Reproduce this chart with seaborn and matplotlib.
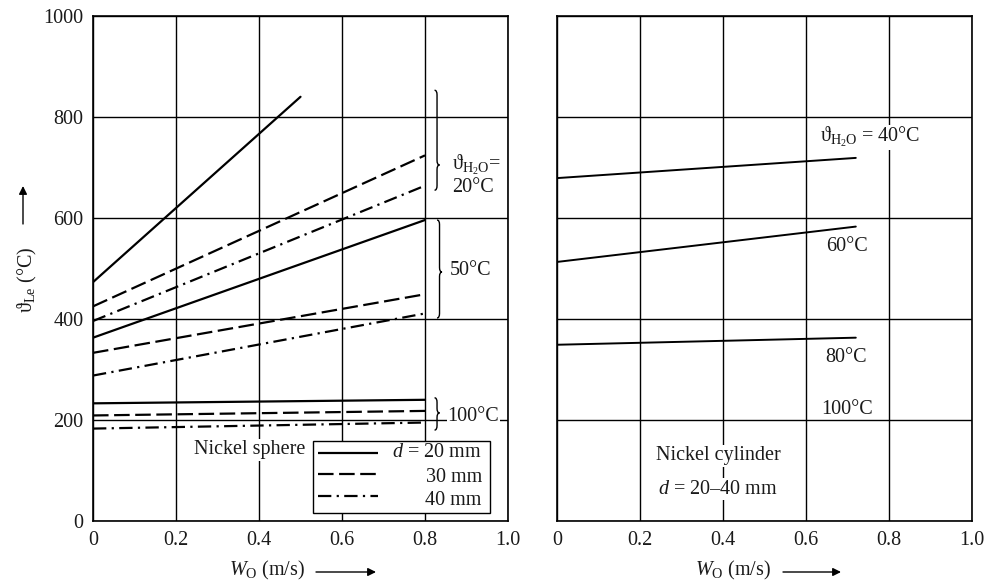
import matplotlib
matplotlib.use("Agg")
import matplotlib.pyplot as plt
from matplotlib.path import Path
from matplotlib.patches import PathPatch
from matplotlib.lines import Line2D
import seaborn as sns
import pandas as pd

# ---------------- data ----------------
# Nickel sphere (left panel): water temperature groups, diameters
sphere_temps = ["20°C", "50°C", "100°C"]
sphere_diams = ["20", "30", "40"]
sphere_w = {
    ("20°C", "20"): [0.0, 0.5], ("20°C", "30"): [0.0, 0.8], ("20°C", "40"): [0.0, 0.8],
    ("50°C", "20"): [0.0, 0.8], ("50°C", "30"): [0.0, 0.8], ("50°C", "40"): [0.0, 0.8],
    ("100°C", "20"): [0.0, 0.8], ("100°C", "30"): [0.0, 0.8], ("100°C", "40"): [0.0, 0.8],
}
sphere_T = {
    ("20°C", "20"): [473, 840], ("20°C", "30"): [425, 724], ("20°C", "40"): [396, 664],
    ("50°C", "20"): [363, 596], ("50°C", "30"): [333, 449], ("50°C", "40"): [288, 411],
    ("100°C", "20"): [233, 240], ("100°C", "30"): [209, 218], ("100°C", "40"): [183, 195],
}
legend_labels = [r"$d$ = 20 mm", "30 mm", "40 mm"]
# Nickel cylinder (right panel)
cyl_temps = ["40°C", "60°C", "80°C"]
cyl_w = [0.0, 0.72]
cyl_T = {"40°C": [679, 719], "60°C": [513, 583], "80°C": [349, 363]}

x_ticks = [0, 0.2, 0.4, 0.6, 0.8, 1.0]
x_ticklabels = ["0", "0.2", "0.4", "0.6", "0.8", "1.0"]
y_ticks = [0, 200, 400, 600, 800, 1000]

rows = []
for (t, d), ws in sphere_w.items():
    for w, T in zip(ws, sphere_T[(t, d)]):
        rows.append({"w": w, "T": T, "temp": t, "d": d})
df_s = pd.DataFrame(rows)
rows = []
for t in cyl_temps:
    for w, T in zip(cyl_w, cyl_T[t]):
        rows.append({"w": w, "T": T, "temp": t})
df_c = pd.DataFrame(rows)

# ---------------- style ----------------
sns.set_style("white")
plt.rcParams["font.family"] = ["Liberation Serif", "DejaVu Serif"]
plt.rcParams["mathtext.fontset"] = "custom"
plt.rcParams["mathtext.rm"] = "Liberation Serif"
plt.rcParams["mathtext.it"] = "Liberation Serif:italic"
plt.rcParams["mathtext.bf"] = "Liberation Serif:bold"
FS = 14.5
TXT = "#1a1a1a"

fig = plt.figure(figsize=(9.87, 5.82), dpi=100)
axL = fig.add_axes([93/987, 61/582, 415/987, 505/582])
axR = fig.add_axes([557/987, 61/582, 415/987, 505/582])

dash_map = {"20": "", "30": (7, 2.5), "40": (6, 2.4, 1, 2.4)}
sns.lineplot(data=df_s, x="w", y="T", style="d", units="temp", estimator=None,
             dashes=dash_map, color="black", linewidth=1.6, ax=axL, legend=False,
             sort=False)
sns.lineplot(data=df_c, x="w", y="T", units="temp", estimator=None,
             color="black", linewidth=1.4, ax=axR, legend=False, sort=False)

for ax in (axL, axR):
    ax.set_xlim(0, 1.0)
    ax.set_ylim(0, 1000)
    ax.set_xticks(x_ticks)
    ax.set_xticklabels(x_ticklabels, fontsize=FS, color=TXT)
    ax.set_yticks(y_ticks)
    ax.grid(True, color="black", linewidth=1.0)
    ax.tick_params(length=0, pad=7)
    for s in ax.spines.values():
        s.set_color("black")
        s.set_linewidth(1.2)
    ax.set_xlabel("")
    ax.set_ylabel("")
axL.set_yticklabels([str(v) for v in y_ticks], fontsize=FS, color=TXT)
axR.set_yticklabels([])

# braces
def brace(ax, x, y0, y1, ym, w=0.012, r=9):
    xm = x + w / 2
    verts = [(x, y1), (xm, y1), (xm, y1 - r), (xm, ym + r), (xm, ym), (x + w, ym),
             (xm, ym), (xm, ym - r), (xm, y0 + r), (xm, y0), (x, y0)]
    codes = [Path.MOVETO, Path.CURVE3, Path.CURVE3, Path.LINETO, Path.CURVE3, Path.CURVE3,
             Path.CURVE3, Path.CURVE3, Path.LINETO, Path.CURVE3, Path.CURVE3]
    ax.add_patch(PathPatch(Path(verts, codes), fill=False, lw=1.0, color="black"))

brace(axL, 0.823, 655, 853, 705)
brace(axL, 0.829, 402, 596, 493)
brace(axL, 0.823, 180, 244, 214)

h2o = r"ϑ$_{\mathrm{H_2O}}$"
axL.text(0.866, 705, h2o + "=", fontsize=FS, va="center", ha="left", color=TXT, clip_on=False)
axL.text(0.866, 661, "20°C", fontsize=FS, va="center", ha="left", color=TXT)
axL.text(0.860, 497, "50°C", fontsize=FS, va="center", ha="left", color=TXT)
axL.text(0.854, 206, "100°C", fontsize=FS, va="center", ha="left", color=TXT,
         bbox=dict(facecolor="white", edgecolor="none", pad=0.5))
axL.text(0.511, 141, "Nickel sphere", fontsize=FS, va="center", ha="right", color=TXT,
         bbox=dict(facecolor="white", edgecolor="none", pad=1))

handles = [Line2D([], [], color="black", lw=1.6,
                  linestyle=(0, ()) if dash_map[d] == "" else (0, dash_map[d]))
           for d in sphere_diams]
leg = axL.legend(handles, ["", "", ""], loc="lower left",
                 bbox_to_anchor=(0.530, 0.016, 0.427, 0.146),
                 mode="expand", fontsize=FS, frameon=True, fancybox=False, handlelength=3.0,
                 borderpad=0.25, labelspacing=0.12, handletextpad=0.5, borderaxespad=0)
leg.get_frame().set_edgecolor("black")
leg.get_frame().set_linewidth(1.0)
leg.get_frame().set_alpha(1)
for lab, yy in zip(legend_labels, [136, 87, 41]):
    axL.text(0.937, yy, lab, fontsize=FS, ha="right", va="center", color=TXT, zorder=10)

axR.text(0.634, 760, h2o + " = 40°C", fontsize=FS, va="center", ha="left", color=TXT,
         bbox=dict(facecolor="white", edgecolor="none", pad=0.3))
axR.text(0.648, 543, "60°C", fontsize=FS, va="center", ha="left", color=TXT)
axR.text(0.646, 323, "80°C", fontsize=FS, va="center", ha="left", color=TXT)
axR.text(0.637, 220, "100°C", fontsize=FS, va="center", ha="left", color=TXT)
axR.text(0.388, 129, "Nickel cylinder", fontsize=FS, va="center", ha="center", color=TXT,
         bbox=dict(facecolor="white", edgecolor="none", pad=1))
axR.text(0.388, 63, r"$d$ = 20–40 mm", fontsize=FS, va="center", ha="center", color=TXT,
         bbox=dict(facecolor="white", edgecolor="none", pad=1))

# axis labels with arrows (figure coordinates)
def fx(px):
    return px / 987
def fy(py):
    return 1 - py / 582

def farrow(x0, y0, x1, y1):
    axL.annotate("", xy=(fx(x1), fy(y1)), xytext=(fx(x0), fy(y0)),
                 xycoords="figure fraction", textcoords="figure fraction",
                 annotation_clip=False,
                 arrowprops=dict(arrowstyle="-|>", color="black", lw=1.0,
                                 mutation_scale=12, shrinkA=0, shrinkB=0))

fig.text(fx(267), fy(570), r"$W_{\mathrm{O}}$ (m/s)", fontsize=FS, ha="center", va="center", color=TXT)
farrow(316, 572, 376, 572)
fig.text(fx(733), fy(570), r"$W_{\mathrm{O}}$ (m/s)", fontsize=FS, ha="center", va="center", color=TXT)
farrow(783, 572, 841, 572)

fig.text(fx(27), fy(280), r"ϑ$_{\mathrm{Le}}$ (°C)", fontsize=FS, rotation=90,
         ha="center", va="center", color=TXT)
farrow(23, 224, 23, 186)

fig.savefig("out.png", dpi=100, facecolor="white")
